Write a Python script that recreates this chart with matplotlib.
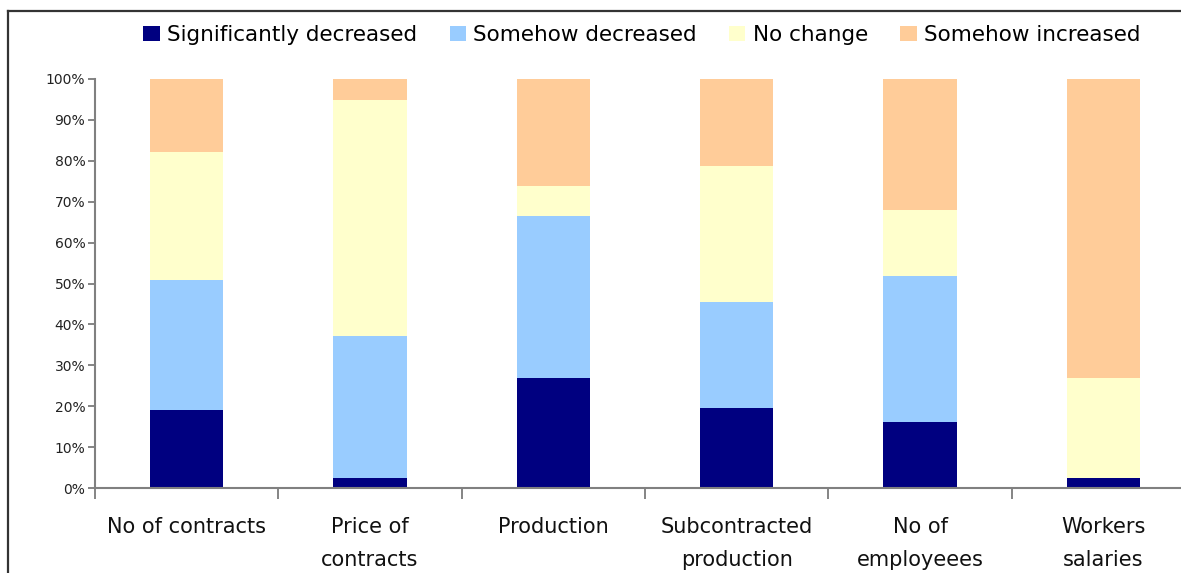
import numpy as np
import matplotlib.pyplot as plt
from matplotlib.patches import Patch
from matplotlib.lines import Line2D

categories = ["No of contracts", "Price of\ncontracts", "Production",
              "Subcontracted\nproduction", "No of\nemployeees", "Workers\nsalaries"]
series = ["Significantly decreased", "Somehow decreased", "No change", "Somehow increased"]
sig_dec = [19.0, 2.4, 26.8, 19.5, 16.1, 2.4]
some_dec = [31.8, 34.7, 39.6, 25.9, 35.7, 0.0]
no_change = [31.3, 57.7, 7.4, 33.3, 16.1, 24.4]
some_inc = [17.9, 5.2, 26.2, 21.3, 32.1, 73.2]
colors = ["#000080", "#99CCFF", "#FFFFCC", "#FFCC99"]

plt.rcParams['font.family'] = ['DejaVu Sans']

fig = plt.figure(figsize=(11.81, 5.73), dpi=100)
ax = fig.add_axes([95 / 1181, 1 - 488 / 573, 1100 / 1181, 409 / 573])

x = np.arange(len(categories))
bottom = np.zeros(len(categories))
for vals, col in zip([sig_dec, some_dec, no_change, some_inc], colors):
    ax.bar(x, vals, width=0.4, bottom=bottom, color=col, edgecolor='none')
    bottom += np.array(vals)

ax.set_xlim(-0.5, len(categories) - 0.5)
ax.set_ylim(0, 100)
ax.set_yticks(np.arange(0, 101, 10))
ax.set_yticklabels([f"{v}%" for v in range(0, 101, 10)], fontsize=10, color='#222222')

# boundary ticks between categories, labels centred under each bar
ax.set_xticks(np.arange(-0.5, len(categories), 1.0))
ax.set_xticklabels([])
ax.set_xticks(x, minor=True)
ax.set_xticklabels(categories, minor=True, fontsize=15, linespacing=1.78, color='#111111')
ax.tick_params(axis='x', which='major', length=8, width=1.2, color='#707070', direction='out')
ax.tick_params(axis='x', which='minor', length=0, pad=21)
ax.tick_params(axis='y', length=5, width=1.2, color='#707070', pad=2)

for s in ['top', 'right']:
    ax.spines[s].set_visible(False)
for s in ['left', 'bottom']:
    ax.spines[s].set_color('#808080')
    ax.spines[s].set_linewidth(1.5)

handles = [Patch(facecolor=c, edgecolor='none') for c in colors]
fig.legend(handles, series, loc='center', bbox_to_anchor=(642 / 1181, 1 - 35 / 573),
           ncol=4, frameon=False, fontsize=15.5, handlelength=0.75, handleheight=0.7,
           handletextpad=0.35, columnspacing=1.5)

# chart frame
fig.add_artist(Line2D([8 / 1181, 8 / 1181], [0, 1 - 11 / 573], color='#333333', lw=1.6))
fig.add_artist(Line2D([8 / 1181, 1], [1 - 11 / 573, 1 - 11 / 573], color='#333333', lw=1.6))

fig.savefig("out.png", dpi=100)
